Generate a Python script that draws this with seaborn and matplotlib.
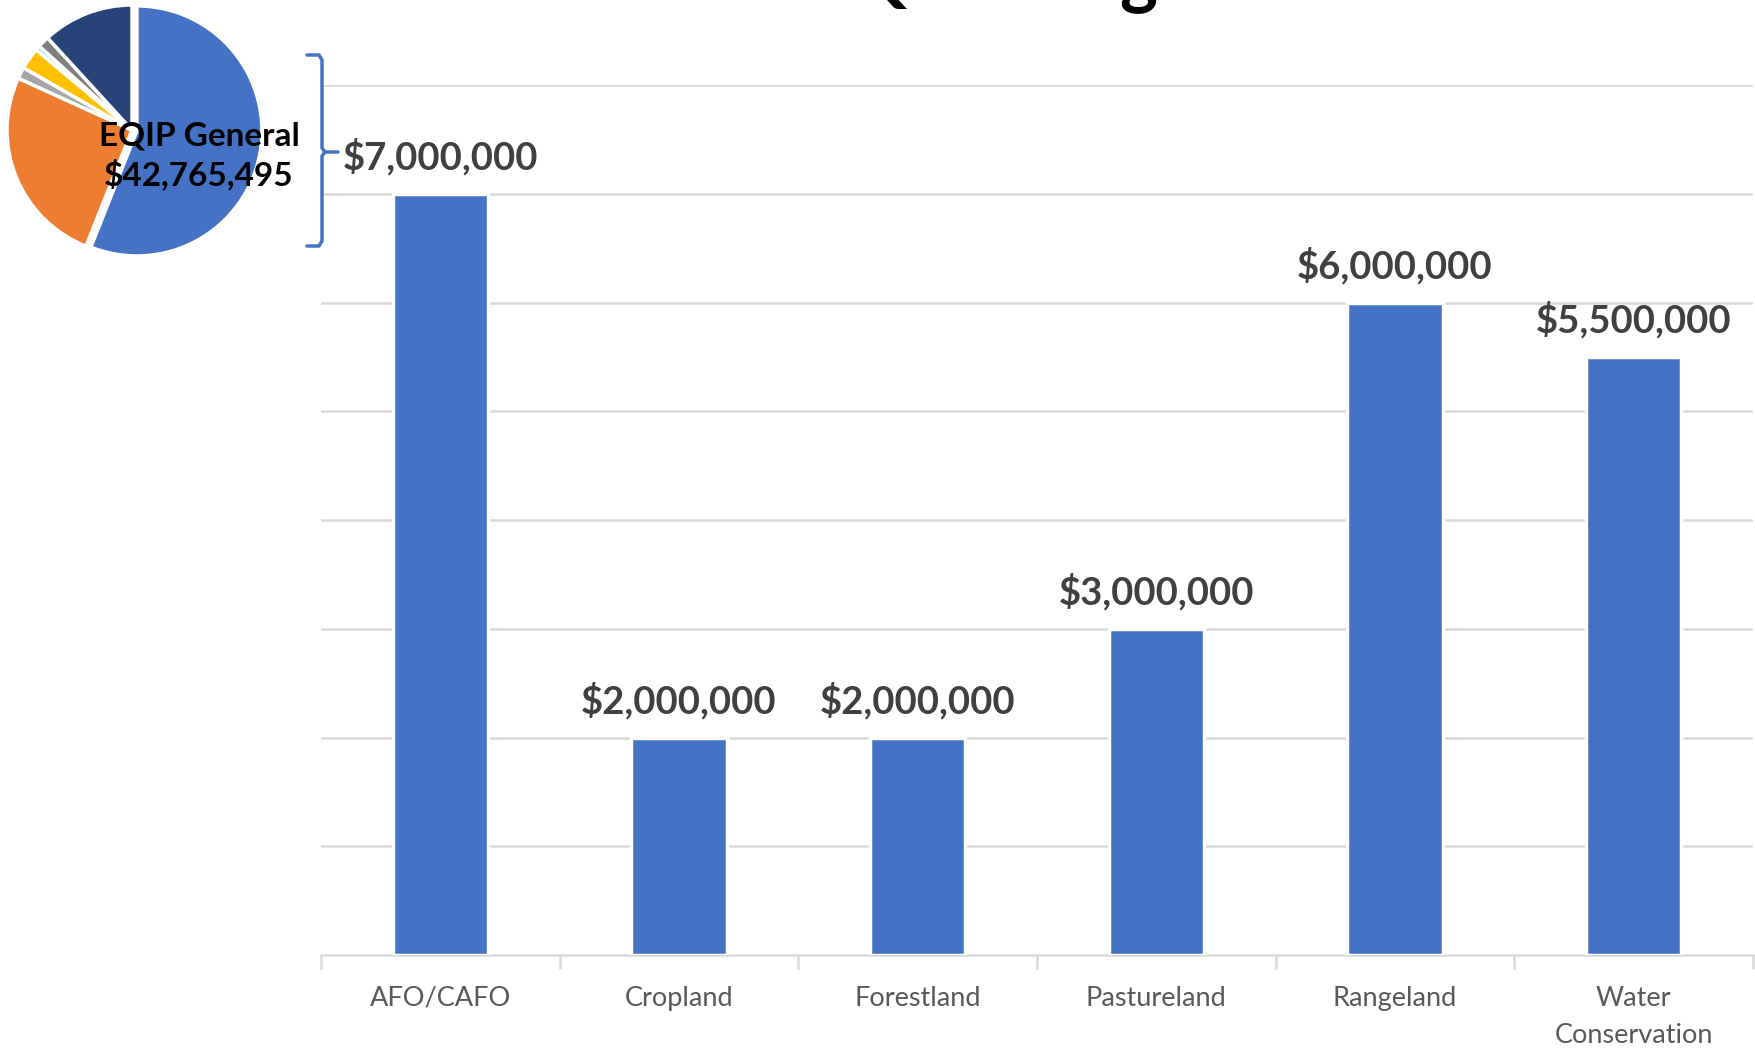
import matplotlib
matplotlib.use("Agg")
import matplotlib.pyplot as plt
import numpy as np
import pandas as pd
import seaborn as sns
from matplotlib.lines import Line2D

# bar chart data (EQIP General breakdown)
CATEGORIES = ["AFO/CAFO", "Cropland", "Forestland", "Pastureland", "Rangeland", "Water\nConservation"]
AMOUNTS = [7000000, 2000000, 2000000, 3000000, 6000000, 5500000]

# inset pie (share of total, percent), clockwise from 12 o'clock
PIE_SHARES = [56.0, 25.8, 1.5, 2.8, 0.6, 1.5, 11.8]
PIE_COLORS = ["#4472C4", "#ED7D31", "#A5A5A5", "#FFC000", "#9DC3E6", "#7F7F7F", "#264478"]
PIE_LABEL = "EQIP General\n$42,765,495"

TITLE = "EQIP Budget"

W, H = 1756, 1049
BAR_COLOR = "#4472C4"
GRID_COLOR = "#D9D9D9"


def fx(px):
    return px / W


def fy(py):
    return 1 - py / H


def setup_style():
    sns.set_theme(style="white")
    plt.rcParams["font.family"] = ["Lato", "DejaVu Sans"]


def main():
    setup_style()
    fig = plt.figure(figsize=(W / 100, H / 100), dpi=100)

    # main bar chart
    ax = fig.add_axes([fx(321), fy(955), fx(1753) - fx(321), fy(85) - fy(955)])
    df = pd.DataFrame({"category": CATEGORIES, "amount": AMOUNTS})
    sns.barplot(data=df, x="category", y="amount", color=BAR_COLOR, saturation=1,
                width=0.40, edgecolor="white", linewidth=2.5, ax=ax, zorder=3)
    ax.set_ylim(0, 8000000)
    ax.set_xlim(-0.5, len(CATEGORIES) - 0.5)
    ax.set_yticks(np.arange(1000000, 8000001, 1000000))
    ax.set_yticklabels([])
    ax.tick_params(axis="y", length=0)
    ax.grid(axis="y", color=GRID_COLOR, linewidth=1.8, zorder=0)
    ax.set_axisbelow(True)
    ax.set_xlabel("")
    ax.set_ylabel("")
    for side in ("left", "right", "top"):
        ax.spines[side].set_visible(False)
    ax.spines["bottom"].set_color(GRID_COLOR)
    ax.spines["bottom"].set_linewidth(1.8)
    ax.set_xticks(np.arange(len(CATEGORIES)))
    ax.set_xticklabels(CATEGORIES, fontsize=19.5, color="#595959", linespacing=1.6)
    ax.tick_params(axis="x", which="major", length=0, pad=22)
    ax.set_xticks(np.arange(-0.5, len(CATEGORIES)), minor=True)
    ax.tick_params(axis="x", which="minor", bottom=True, length=10, width=1.8, color=GRID_COLOR)
    for i, v in enumerate(AMOUNTS):
        ax.annotate(f"${v:,.0f}", (i, v), xytext=(0, 13), textcoords="offset points",
                    ha="center", va="bottom", fontsize=27.5, fontweight="bold", color="#404040")

    # inset pie
    pax = fig.add_axes([fx(7), fy(260), fx(255), fy(0) - fy(255)])
    explode = [0.04] + [0] * (len(PIE_SHARES) - 1)
    pax.pie(PIE_SHARES, colors=PIE_COLORS, startangle=90, counterclock=False, explode=explode,
            wedgeprops=dict(edgecolor="white", linewidth=2.5))
    pax.set_xlim(-1, 1.04)
    pax.set_ylim(-1.04, 1)
    pax.set_aspect("equal")
    pax.axis("off")
    fig.text(fx(199), fy(156), PIE_LABEL, ha="center", va="center", fontsize=24,
             fontweight="bold", color="black", linespacing=1.3)

    # curly bracket linking pie to bars
    bx, top, mid, bot = 322, 55, 152, 246
    brace_x = [fx(307), fx(bx - 3), fx(bx), fx(bx), fx(bx + 3), fx(338)]
    brace_y = [fy(top), fy(top), fy(top + 5), fy(mid - 4), fy(mid), fy(mid)]
    fig.add_artist(Line2D(brace_x, brace_y, color=BAR_COLOR, linewidth=2.5))
    brace_x2 = [fx(bx + 3), fx(bx), fx(bx), fx(bx - 3), fx(307)]
    brace_y2 = [fy(mid), fy(mid + 4), fy(bot - 5), fy(bot), fy(bot)]
    fig.add_artist(Line2D(brace_x2, brace_y2, color=BAR_COLOR, linewidth=2.5))

    # title mostly cut off above the canvas
    fig.text(fx(1015), fy(-2), TITLE, ha="center", va="baseline", fontsize=52,
             fontweight="bold", color="black")

    fig.savefig("out.png", dpi=100)
    plt.close(fig)


if __name__ == "__main__":
    main()
